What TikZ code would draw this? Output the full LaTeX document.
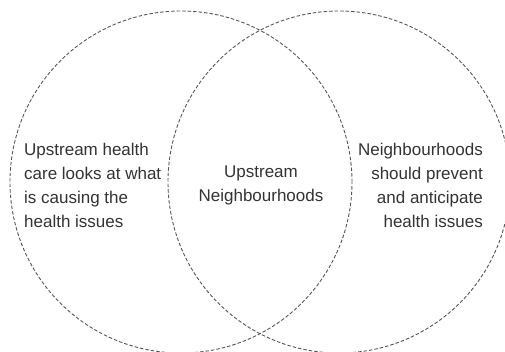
\documentclass[tikz,border=0pt]{standalone}
\usepackage{fontspec}
\setmainfont{Liberation Sans}
\definecolor{txt}{HTML}{333333}
\definecolor{ring}{HTML}{555555}
\begin{document}
\begin{tikzpicture}[x=1pt,y=1pt,
  ringstyle/.style={draw=ring,line width=0.9pt,dash pattern=on 3.5pt off 2pt},
  label/.style={text=txt,font=\fontsize{17}{24}\selectfont,inner sep=0pt}]
\useasboundingbox (0,0) rectangle (505,-351);
\clip (0,0) rectangle (505,-351);
\fill[white] (0,0) rectangle (505,-351);
\node[ringstyle,circle,minimum size=342pt,inner sep=0pt] (lc) at (181,-182) {};
\node[ringstyle,circle,minimum size=342pt,inner sep=0pt] (rc) at (339,-182) {};
\node[label,align=left,anchor=west] (lt) at (24,-185) {Upstream health\\care looks at what\\is causing the\\health issues};
\node[label,align=center] (mt) at (261,-185) {Upstream\\Neighbourhoods};
\node[label,align=right,anchor=east] (rt) at (483,-185) {Neighbourhoods\\should prevent\\and anticipate\\health issues};
\end{tikzpicture}
\end{document}
